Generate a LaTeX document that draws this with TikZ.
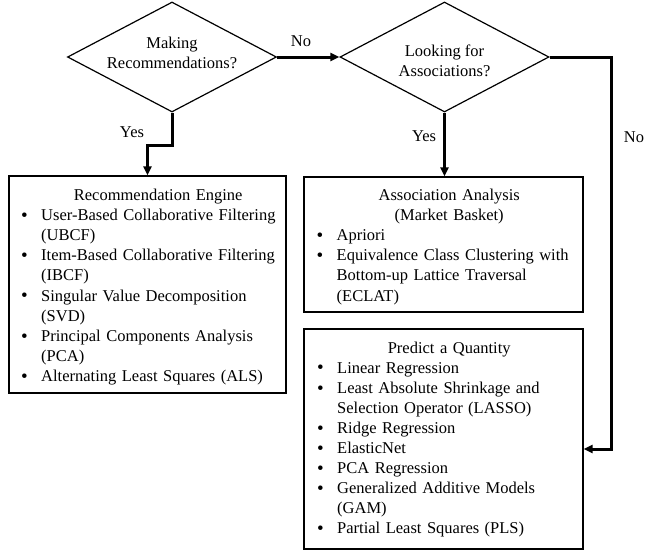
\documentclass[tikz,border=0pt]{standalone}
\usepackage{fontspec}
\setmainfont{Liberation Serif}
\usepackage{tikz}
\usetikzlibrary{arrows.meta}
\usetikzlibrary{shapes.geometric}

% title line, centred in a box of given width
\newcommand{\boxtitle}[2]{\makebox[#1][c]{#2}\par}
% bulleted entry with hanging indent
\newcommand{\bitem}[2][20pt]{\noindent\hangindent=#1\hangafter=1\makebox[#1][l]{\raisebox{-0.8pt}{\fontsize{19pt}{19pt}\selectfont\textbullet}}#2\par}

\begin{document}
\begin{tikzpicture}[x=1pt,y=-1pt,
every node/.style={font=\fontsize{16.5pt}{20.1pt}\selectfont},
decision/.style={diamond, draw, line width=1.2pt, minimum width=209pt, minimum height=110pt, inner sep=0pt},
box/.style={draw, line width=1.2pt, inner sep=0pt},
listtext/.style={inner sep=0pt, anchor=base west},
flow/.style={line width=3pt, -{Triangle[length=9pt,width=8pt]}}]
\useasboundingbox (0,0) rectangle (650,555);
% draws decisions
\node[decision] (dMake) at (172,57){};
\node[decision] (dLook) at (444.5,57){};
\node[align=center, inner sep=0pt] (qMake) at (172,53) {Making\\Recommendations?};
\node[align=center, inner sep=0pt] (qLook) at (444.5,60.5) {Looking for\\Associations?};
% draws boxes
\node[box, minimum width=277pt, minimum height=217pt] (rec) at (147.5,284.5){};
\node[box, minimum width=279pt, minimum height=135pt] (assoc) at (443.5,244.5){};
\node[box, minimum width=279pt, minimum height=220pt] (pred) at (443.5,439){};
% box texts
\node[listtext, text width=280pt] (recList) at (21,200.5) {%
\boxtitle{274pt}{Recommendation Engine}
\bitem{User-Based Collaborative Filtering\newline (UBCF)}
\bitem{Item-Based Collaborative Filtering\newline (IBCF)}
\bitem{Singular Value Decomposition\newline (SVD)}
\bitem{Principal Components Analysis\newline (PCA)}
\bitem{Alternating Least Squares (ALS)}};
\node[listtext, text width=266pt] (assocList) at (316.5,200.5) {%
\boxtitle{265pt}{Association Analysis}
\boxtitle{265pt}{(Market Basket)}
\bitem{Apriori}
\bitem{Equivalence Class Clustering with\newline Bottom-up Lattice Traversal\newline (ECLAT)}};
\node[listtext, text width=266pt] (predList) at (317,353) {%
\boxtitle{264pt}{Predict a Quantity}
\bitem{Linear Regression}
\bitem{Least Absolute Shrinkage and\newline Selection Operator (LASSO)}
\bitem{Ridge Regression}
\bitem{ElasticNet}
\bitem{PCA Regression}
\bitem{Generalized Additive Models\newline (GAM)}
\bitem{Partial Least Squares (PLS)}};
% bends
\coordinate (bendA) at (172,145);
\coordinate (bendB) at (611,449);
% draws edges
\draw[flow] (dMake.east) to (dLook.west);
\draw[flow] (dMake.south) -- (bendA) -| (rec.north);
\draw[flow] (dLook.south) -- (dLook.south |- assoc.north);
\draw[flow] (dLook.east) -| (bendB) -- (bendB -| pred.east);
% labels edges
\node (noA) at (301,41) {No};
\node (yesA) at (132,132) {Yes};
\node (yesB) at (424,136) {Yes};
\node (noB) at (634,137) {No};
\end{tikzpicture}
\end{document}
